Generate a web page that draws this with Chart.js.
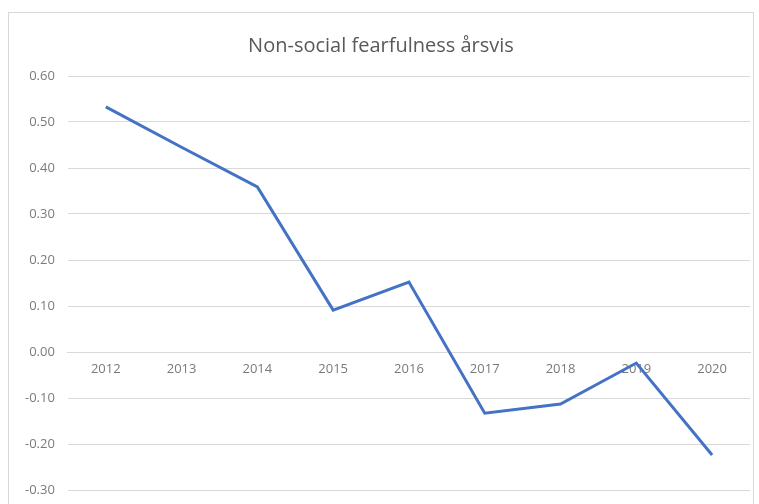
<!DOCTYPE html>
<html>
<head>
<meta charset="utf-8">
<script src="https://cdn.jsdelivr.net/npm/chart.js@4/dist/chart.umd.min.js"></script>
<style>
  html, body { margin: 0; padding: 0; background: #fff; }
  body { width: 759px; height: 504px; position: relative; overflow: hidden; }
  #frame { position: absolute; left: 8px; top: 12px; width: 746px; height: 520px; border: 1px solid #d9d9d9; box-sizing: border-box; }
  #wrap { position: absolute; left: 0; top: 0; width: 759px; height: 504px; }
</style>
</head>
<body>
<div id="frame"></div>
<div id="wrap"><canvas id="fearChart"></canvas></div>
<script>
const years = ['2012', '2013', '2014', '2015', '2016', '2017', '2018', '2019', '2020'];
const fearfulness = [0.533, 0.445, 0.359, 0.091, 0.152, -0.133, -0.113, -0.024, -0.224];
const yTicks = [-0.3, -0.2, -0.1, 0, 0.1, 0.2, 0.3, 0.4, 0.5, 0.6];
const chartTitle = 'Non-social fearfulness årsvis';

const ctx = document.getElementById('fearChart').getContext('2d');

const chart = new Chart(ctx, {
  type: 'line',
  data: {
    labels: years,
    datasets: [{
      label: chartTitle,
      data: fearfulness,
      borderColor: '#4472C4',
      borderWidth: 3,
      pointRadius: 0,
      tension: 0,
      fill: false
    }]
  },
  options: {
    responsive: true,
    maintainAspectRatio: false,
    animation: false,
    layout: { padding: { left: 12, right: 9, top: 34, bottom: 14 } },
    plugins: {
      legend: { display: false },
      tooltip: { enabled: false },
      title: {
        display: true,
        text: chartTitle,
        color: '#595959',
        font: { family: 'Open Sans', size: 20, weight: 'normal' },
        padding: { top: 0, bottom: 18 }
      }
    },
    scales: {
      x: {
        position: { y: 0 },
        offset: true,
        // axis sits on the zero line, so it should not reserve room at the bottom
        afterFit: axis => { axis.height = 0; axis.paddingTop = 0; axis.paddingBottom = 0; },
        grid: { display: false, drawTicks: false },
        border: { display: true, color: '#d9d9d9', width: 1 },
        ticks: {
          color: '#7a7a7a',
          font: { family: 'Open Sans', size: 13 },
          padding: 9,
          maxRotation: 0
        }
      },
      y: {
        min: yTicks[0],
        max: yTicks[yTicks.length - 1],
        afterBuildTicks: axis => { axis.ticks = yTicks.map(v => ({ value: v })); },
        afterFit: axis => { axis.paddingBottom = 0; },
        grid: { color: '#d9d9d9', drawTicks: false },
        border: { display: false },
        ticks: {
          color: '#7a7a7a',
          font: { family: 'Open Sans', size: 13 },
          padding: 13,
          callback: v => Number(v).toFixed(2)
        }
      }
    }
  }
});
</script>
</body>
</html>
